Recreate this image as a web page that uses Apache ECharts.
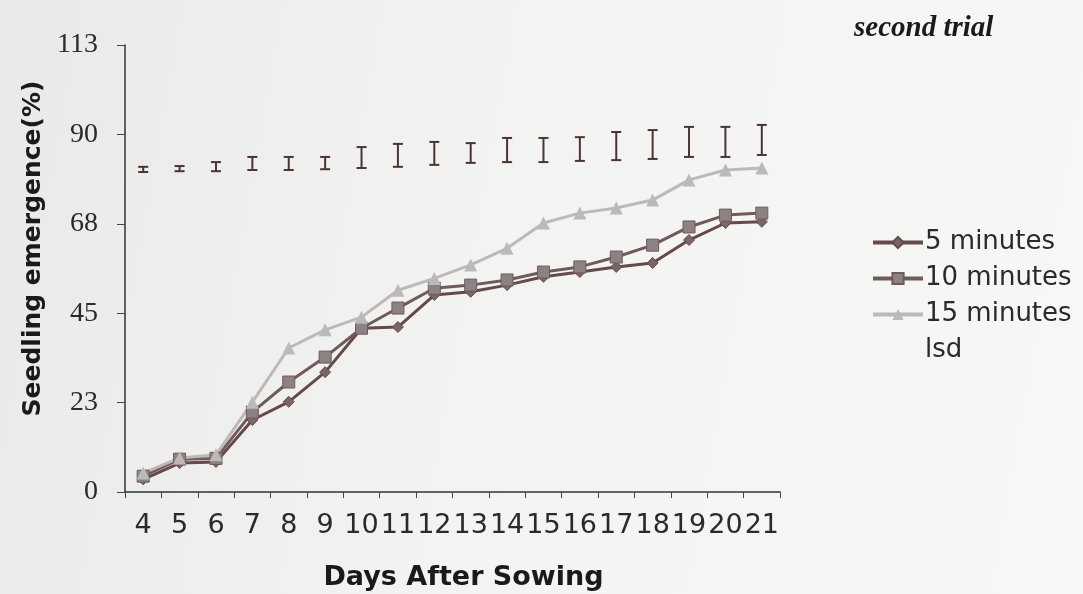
<!DOCTYPE html>
<html>
<head>
<meta charset="utf-8">
<script src="https://cdn.jsdelivr.net/npm/echarts@6/dist/echarts.min.js"></script>
<style>
html,body{margin:0;padding:0;background:#f2f2f0;}
#c{width:1083px;height:594px;background:linear-gradient(100deg,#e9e9e7 0%,#f3f3f1 45%,#f7f7f5 100%);}
</style>
</head>
<body>
<div id="c"></div>
<script>
const days = ['4','5','6','7','8','9','10','11','12','13','14','15','16','17','18','19','20','21'];
const min5  = [3.2, 7.3, 7.6, 18.2, 22.8, 30.3, 41.4, 41.7, 49.8, 50.6, 52.3, 54.4, 55.6, 56.9, 57.9, 63.7, 68.0, 68.3];
const min10 = [4.0, 8.3, 8.5, 20.2, 27.8, 34.1, 41.4, 46.5, 51.5, 52.3, 53.6, 55.6, 56.9, 59.4, 62.4, 67.0, 70.0, 70.5];
const min15 = [4.8, 8.6, 9.4, 22.7, 36.4, 41.0, 44.2, 51.0, 54.0, 57.4, 61.6, 68.0, 70.5, 71.8, 73.8, 78.9, 81.4, 81.9];
const lsdLow  = [80.9, 81.1, 81.1, 81.4, 81.4, 81.6, 81.9, 82.2, 82.7, 83.2, 83.4, 83.4, 83.7, 83.9, 84.2, 84.7, 84.7, 85.2];
const lsdHigh = [82.2, 82.4, 83.4, 84.7, 84.7, 84.7, 87.2, 88.0, 88.5, 88.2, 89.5, 89.5, 89.7, 91.0, 91.5, 92.3, 92.3, 92.8];
const yTicks = [0, 23, 45, 68, 90, 113];

const chart = echarts.init(document.getElementById('c'));
const lsdData = days.map((d, i) => [i, lsdLow[i], lsdHigh[i]]);
const errColor = '#4a3436';

chart.setOption({
  backgroundColor: 'transparent',
  animation: false,
  title: {
    text: 'second trial',
    left: 849, top: 9,
    textStyle: {fontFamily: 'Liberation Serif', fontStyle: 'italic', fontWeight: 'bold', fontSize: 29, color: '#1a1a1a'}
  },
  grid: {left: 125, right: 303, top: 45, bottom: 102, containLabel: false, outerBoundsMode: 'none'},
  legend: {
    orient: 'vertical',
    left: 866, top: 224,
    itemGap: 9,
    itemWidth: 50, itemHeight: 14,
    lineStyle: {width: 4},
    textStyle: {fontFamily: 'DejaVu Sans', fontSize: 26, color: '#2a2a2a', padding: [0,0,0,-3], lineHeight: 27},
    data: [
      {name: '5 minutes'},
      {name: '10 minutes'},
      {name: '15 minutes'},
      {name: 'lsd', icon: 'rect', itemStyle: {opacity: 0}}
    ]
  },
  xAxis: {
    type: 'category',
    data: days,
    boundaryGap: true,
    name: 'Days After Sowing',
    nameLocation: 'middle',
    nameGap: 72,
    nameTextStyle: {fontFamily: 'DejaVu Sans', fontWeight: 'bold', fontSize: 27, color: '#1a1a1a', padding: [0, 0, 0, 22]},
    axisLine: {lineStyle: {color: '#333', width: 1.5}},
    axisTick: {show: true, length: 6, lineStyle: {color: '#444'}},
    axisLabel: {fontFamily: 'DejaVu Sans', fontSize: 27, color: '#2a2a2a', margin: 20, interval: 0}
  },
  yAxis: {
    type: 'value',
    min: 0, max: 113, interval: 22.6,
    name: 'Seedling emergence(%)',
    nameLocation: 'middle',
    nameGap: 78,
    nameTextStyle: {fontFamily: 'DejaVu Sans', fontWeight: 'bold', fontSize: 25, color: '#1a1a1a', padding: [0, 0, 0, 40]},
    axisLine: {show: true, lineStyle: {color: '#333', width: 1.5}},
    axisTick: {show: true, length: 8, lineStyle: {color: '#444'}},
    splitLine: {show: false},
    axisLabel: {
      fontFamily: 'Liberation Serif', fontSize: 28, color: '#2a2a2a', margin: 27,
      formatter: v => {
        let best = yTicks[0];
        yTicks.forEach(t => { if (Math.abs(t - v) < Math.abs(best - v)) best = t; });
        return String(best);
      }
    }
  },
  series: [
    {
      name: '5 minutes', type: 'line', data: min5,
      symbol: 'diamond', symbolSize: 11,
      lineStyle: {color: '#65494c', width: 3},
      itemStyle: {color: '#7a6668', borderColor: '#65494c', borderWidth: 1}
    },
    {
      name: '10 minutes', type: 'line', data: min10,
      symbol: 'rect', symbolSize: 12,
      lineStyle: {color: '#6f5a5c', width: 3},
      itemStyle: {color: '#8c8284', borderColor: '#6f5a5c', borderWidth: 1}
    },
    {
      name: '15 minutes', type: 'line', data: min15,
      symbol: 'triangle', symbolSize: 13,
      lineStyle: {color: '#bdb9b9', width: 3},
      itemStyle: {color: '#bdb9b9'}
    },
    {
      name: 'lsd', type: 'custom', data: lsdData,
      itemStyle: {color: errColor},
      encode: {x: 0, y: [1, 2]},
      renderItem: function (params, api) {
        const x = api.value(0);
        const lo = api.coord([x, api.value(1)]);
        const hi = api.coord([x, api.value(2)]);
        const hw = 5;
        const st = {stroke: errColor, lineWidth: 2, fill: null};
        return {
          type: 'group',
          children: [
            {type: 'line', shape: {x1: lo[0], y1: lo[1], x2: hi[0], y2: hi[1]}, style: st},
            {type: 'line', shape: {x1: lo[0]-hw, y1: lo[1], x2: lo[0]+hw, y2: lo[1]}, style: st},
            {type: 'line', shape: {x1: hi[0]-hw, y1: hi[1], x2: hi[0]+hw, y2: hi[1]}, style: st}
          ]
        };
      }
    }
  ]
});
</script>
</body>
</html>
